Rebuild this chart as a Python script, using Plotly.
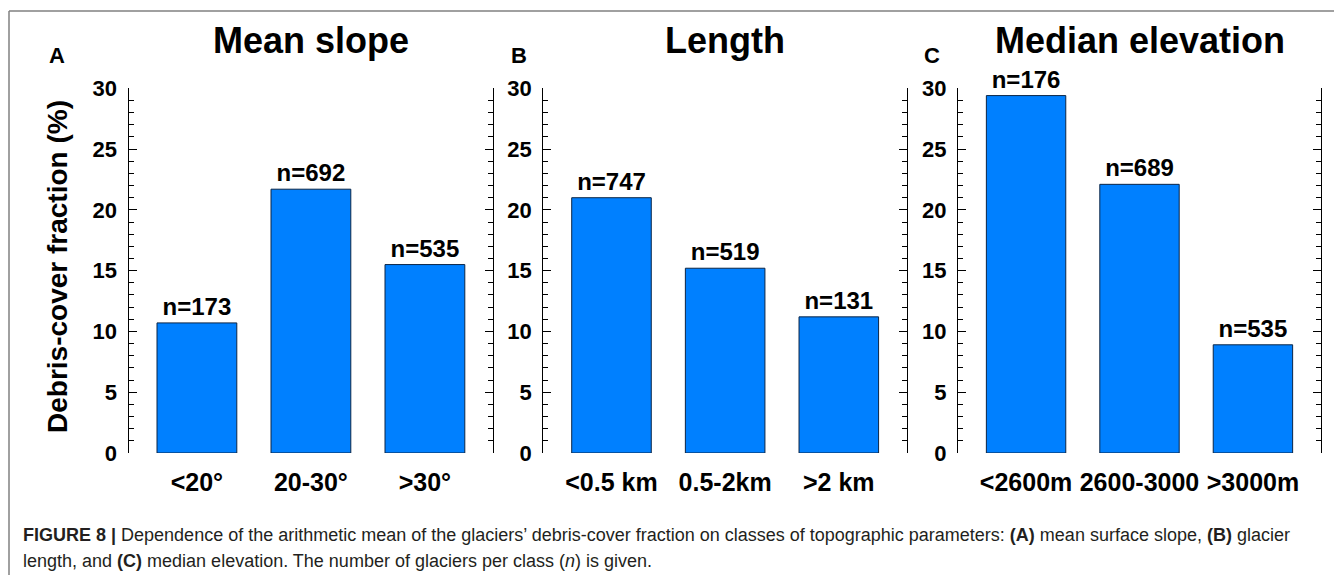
import plotly.graph_objects as go

# page body margin (8px) is compensated: figure drawn 8px smaller and shifted
OFF = 8
W, H = 1342 - OFF, 575 - OFF

# ---- data ----
slope_categories = ["<20°", "20-30°", ">30°"]
slope_values = [10.7, 21.7, 15.5]
slope_n = [173, 692, 535]

length_categories = ["<0.5 km", "0.5-2km", ">2 km"]
length_values = [21.0, 15.2, 11.2]
length_n = [747, 519, 131]

elev_categories = ["<2600m", "2600-3000", ">3000m"]
elev_values = [29.4, 22.1, 8.9]
elev_n = [176, 689, 535]

panel_titles = ["Mean slope", "Length", "Median elevation"]
panel_letters = ["A", "B", "C"]
y_tick_values = [0, 5, 10, 15, 20, 25, 30]

FONT = "Liberation Sans, Arial, Helvetica, sans-serif"
BAR_COLOR = "#0080FF"
EDGE_COLOR = "#0b2546"

# pixel layout (reference page coordinates)
x_domains_px = [(128.5, 493.3), (543.3, 907.0), (958.0, 1321.0)]
y_bottom_px, y_top_px = 453.0, 88.3

def px_x(p):
    return (p - OFF) / W

def px_y(p):
    return 1 - (p - OFF) / H

fig = go.Figure()

panels = [
    (slope_categories, slope_values, slope_n),
    (length_categories, length_values, length_n),
    (elev_categories, elev_values, elev_n),
]

for i, (cats, vals, ns) in enumerate(panels):
    idx = "" if i == 0 else str(i + 1)
    fig.add_trace(go.Bar(
        x=cats, y=vals,
        text=[f"n={n}" for n in ns],
        textposition="outside",
        constraintext="none",
        cliponaxis=False,
        textfont=dict(family=FONT, size=24, color="black", weight="bold"),
        marker=dict(color=BAR_COLOR, line=dict(color=EDGE_COLOR, width=1)),
        width=0.7,
        xaxis="x" + idx, yaxis="y" + idx,
        showlegend=False,
    ))
    x0, x1 = x_domains_px[i]
    fig.layout["xaxis" + idx] = dict(
        domain=[px_x(x0), px_x(x1)],
        anchor="y" + idx,
        type="category",
        range=[-0.6, 2.6],
        automargin=False,
        showline=False, showgrid=False, zeroline=False,
        ticks="",
        tickfont=dict(family=FONT, size=25, color="black", weight="bold"),
        ticklabelstandoff=12,
    )
    fig.layout["yaxis" + idx] = dict(
        domain=[px_y(y_bottom_px), px_y(y_top_px)],
        anchor="x" + idx,
        range=[0, 30],
        automargin=False,
        tickvals=y_tick_values,
        ticktext=[str(v) for v in y_tick_values],
        showline=True, linecolor="black", linewidth=1.3,
        mirror="ticks",
        ticks="inside", ticklen=8, tickwidth=1.3, tickcolor="black",
        minor=dict(ticks="inside", dtick=1, ticklen=5, tickwidth=1.1, tickcolor="black"),
        showgrid=False, zeroline=False,
        tickfont=dict(family=FONT, size=22, color="black", weight="bold"),
        ticklabelstandoff=6,
    )

annotations = []
centers = [(a + b) / 2 for a, b in x_domains_px]
for i in range(3):
    annotations.append(dict(
        x=px_x(centers[i]), y=px_y(40), xref="paper", yref="paper",
        text=panel_titles[i], showarrow=False,
        font=dict(family=FONT, size=36, color="black", weight="bold"),
        xanchor="center", yanchor="middle",
    ))
letter_x = [57, 519, 932]
for i in range(3):
    annotations.append(dict(
        x=px_x(letter_x[i]), y=px_y(55), xref="paper", yref="paper",
        text=panel_letters[i], showarrow=False,
        font=dict(family=FONT, size=22, color="black", weight="bold"),
        xanchor="center", yanchor="middle",
    ))
annotations.append(dict(
    x=px_x(57), y=px_y(267), xref="paper", yref="paper",
    text="Debris-cover fraction (%)", showarrow=False, textangle=-90,
    font=dict(family=FONT, size=28, color="black", weight="bold"),
    xanchor="center", yanchor="middle",
))
caption1 = ("<b>FIGURE 8 |</b> Dependence of the arithmetic mean of the glaciers\u2019 debris-cover fraction "
            "on classes of topographic parameters: <b>(A)</b> mean surface slope, <b>(B)</b> glacier")
caption2 = ("length, and <b>(C)</b> median elevation. The number of glaciers per class (<i>n</i>) is given.")
annotations.append(dict(
    x=px_x(21), y=px_y(535), xref="paper", yref="paper",
    text=caption1, showarrow=False, align="left",
    font=dict(family=FONT, size=18, color="#231f20"),
    xanchor="left", yanchor="middle",
))
annotations.append(dict(
    x=px_x(21), y=px_y(561), xref="paper", yref="paper",
    text=caption2, showarrow=False, align="left",
    font=dict(family=FONT, size=18, color="#231f20"),
    xanchor="left", yanchor="middle",
))

shapes = [
    dict(type="line", xref="paper", yref="paper", x0=px_x(9), x1=1, y0=px_y(11), y1=px_y(11),
         line=dict(color="#808080", width=1.5)),
    dict(type="line", xref="paper", yref="paper", x0=px_x(9), x1=px_x(9), y0=px_y(11), y1=0,
         line=dict(color="#808080", width=1.5)),
]

fig.update_layout(
    width=W, height=H,
    margin=dict(l=0, r=0, t=0, b=0, autoexpand=False),
    paper_bgcolor="white", plot_bgcolor="white",
    annotations=annotations, shapes=shapes,
    bargap=0.3,
)

fig.write_html("out.html")
